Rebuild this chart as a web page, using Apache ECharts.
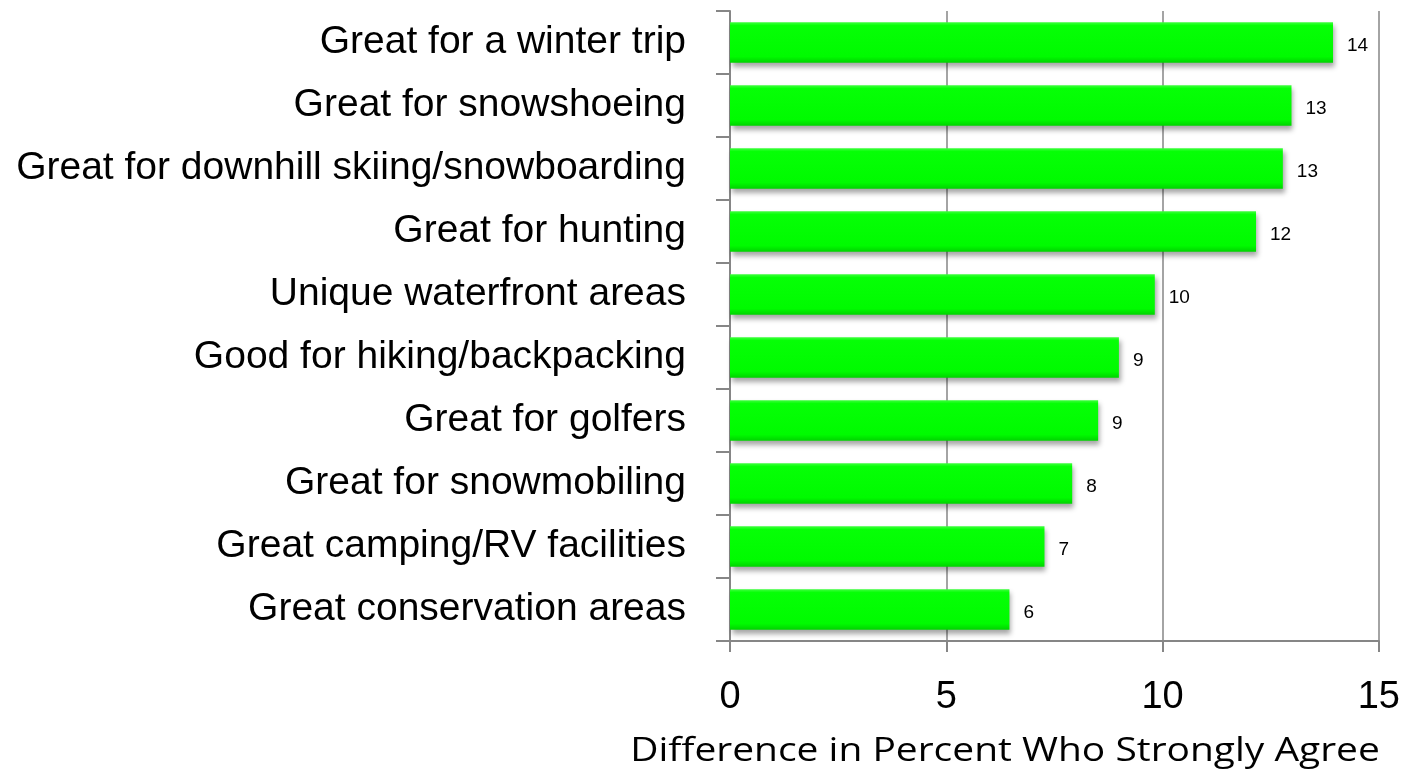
<!DOCTYPE html>
<html>
<head>
<meta charset="utf-8">
<script src="https://cdn.jsdelivr.net/npm/echarts@6/dist/echarts.min.js"></script>
<style>
  html, body { margin: 0; padding: 0; background: #ffffff; }
  #chart { width: 1403px; height: 771px; }
</style>
</head>
<body>
<div id="chart"></div>
<script>
// Attributes, listed top to bottom
const categories = [
  'Great for a winter trip',
  'Great for snowshoeing',
  'Great for downhill skiing/snowboarding',
  'Great for hunting',
  'Unique waterfront areas',
  'Good for hiking/backpacking',
  'Great for golfers',
  'Great for snowmobiling',
  'Great camping/RV facilities',
  'Great conservation areas'
];

// Difference in percent who strongly agree
const differences = [13.94, 12.98, 12.78, 12.16, 9.82, 8.99, 8.51, 7.91, 7.27, 6.46];

const xTicks = { min: 0, max: 15, interval: 5 };
const axisTitle = 'Difference in Percent Who Strongly Agree';

const chart = echarts.init(document.getElementById('chart'), null, { renderer: 'canvas' });

const axisGray = '#868686';
const sansFont = '"Liberation Sans", Arial, sans-serif';

chart.setOption({
  animation: false,
  backgroundColor: '#ffffff',
  grid: { left: 730, right: 24, top: 11, bottom: 130, containLabel: false },
  xAxis: {
    type: 'value',
    min: xTicks.min,
    max: xTicks.max,
    interval: xTicks.interval,
    axisLine: { show: true, lineStyle: { color: axisGray, width: 2 } },
    axisTick: { show: true, length: 11, lineStyle: { color: axisGray, width: 2 } },
    splitLine: { show: true, lineStyle: { color: axisGray, width: 1.5 } },
    axisLabel: {
      color: '#000000',
      fontFamily: sansFont,
      fontSize: 38,
      margin: 38
    }
  },
  yAxis: {
    type: 'category',
    inverse: true,
    data: categories,
    axisLine: { show: true, lineStyle: { color: axisGray, width: 2 } },
    axisTick: { show: true, length: 14, lineStyle: { color: axisGray, width: 2 } },
    splitLine: { show: false },
    axisLabel: {
      color: '#000000',
      fontFamily: sansFont,
      fontSize: 39,
      margin: 44
    }
  },
  series: [{
    type: 'bar',
    data: differences,
    barCategoryGap: '36%',
    itemStyle: {
      color: new echarts.graphic.LinearGradient(0, 0, 0, 1, [
        { offset: 0, color: '#3dff3d' },
        { offset: 0.08, color: '#06ff06' },
        { offset: 0.85, color: '#00fb00' },
        { offset: 1, color: '#00d400' }
      ]),
      shadowColor: 'rgba(0, 0, 0, 0.35)',
      shadowBlur: 5,
      shadowOffsetX: 2,
      shadowOffsetY: 4
    },
    label: {
      show: true,
      position: 'right',
      distance: 14,
      color: '#000000',
      fontFamily: sansFont,
      fontSize: 19,
      offset: [0, 3],
      formatter: p => String(Math.round(p.value))
    }
  }],
  graphic: [{
    type: 'text',
    x: 1005,
    y: 752,
    scaleX: 1.18,
    style: {
      text: axisTitle,
      x: 0,
      y: 0,
      align: 'center',
      verticalAlign: 'middle',
      fill: '#000000',
      font: '33px "Open Sans", sans-serif'
    }
  }]
});
</script>
</body>
</html>
